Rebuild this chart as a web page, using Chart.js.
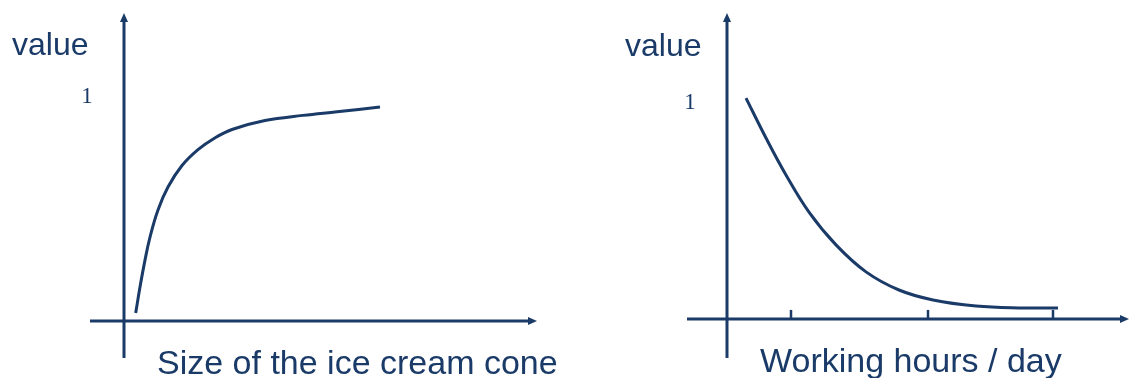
<!DOCTYPE html>
<html>
<head>
<meta charset="utf-8">
<script src="https://cdn.jsdelivr.net/npm/chart.js@4/dist/chart.umd.min.js"></script>
<style>
  html, body { margin: 0; padding: 0; background: #fff; }
  #wrap { position: relative; width: 1130px; height: 378px; overflow: hidden; }
  .panel { position: absolute; top: 0; width: 565px; height: 378px; }
</style>
</head>
<body>
<div id="wrap">
  <div class="panel" style="left:0"><canvas id="leftChart"></canvas></div>
  <div class="panel" style="left:565px"><canvas id="rightChart"></canvas></div>
</div>
<script>
// values (y: 1 = the "1" mark on the axis)
const coneSize = [0.117, 0.16, 0.21, 0.26, 0.34, 0.44, 0.58, 0.74, 0.9, 1.08, 1.41, 1.79, 2.13, 2.56];
const coneValue = [0.036, 0.152, 0.272, 0.375, 0.496, 0.598, 0.694, 0.765, 0.815, 0.855, 0.895, 0.918, 0.934, 0.955];

const workHours = [0.19, 0.39, 0.59, 0.82, 1.09, 1.39, 1.72, 2.06, 2.49, 2.92, 3.31];
const workValue = [1.023, 0.838, 0.667, 0.495, 0.343, 0.218, 0.134, 0.088, 0.06, 0.051, 0.051];

const leftTicks = [];
const rightTicks = [0.64, 2.01, 3.26];
const yTickLabels = ["1"];

const NAVY = "#1a3a68";

// draws the arrowed axes, tick marks and the texts
const sketchAxes = {
  id: "sketchAxes",
  afterDatasetsDraw(chart, args, opts) {
    const { ctx, chartArea } = chart;
    const xs = chart.scales.x;
    const ys = chart.scales.y;
    const x0 = xs.getPixelForValue(0);
    const y0 = ys.getPixelForValue(0);

    ctx.save();
    ctx.strokeStyle = NAVY;
    ctx.fillStyle = NAVY;
    ctx.lineWidth = 3;

    // y axis
    ctx.beginPath();
    ctx.moveTo(x0, chartArea.bottom);
    ctx.lineTo(x0, chartArea.top + 6);
    ctx.stroke();
    ctx.beginPath();
    ctx.moveTo(x0, chartArea.top);
    ctx.lineTo(x0 - 4, chartArea.top + 9);
    ctx.lineTo(x0 + 4, chartArea.top + 9);
    ctx.closePath();
    ctx.fill();

    // x axis
    ctx.beginPath();
    ctx.moveTo(chartArea.left, y0);
    ctx.lineTo(chartArea.right - 6, y0);
    ctx.stroke();
    ctx.beginPath();
    ctx.moveTo(chartArea.right, y0);
    ctx.lineTo(chartArea.right - 9, y0 - 4);
    ctx.lineTo(chartArea.right - 9, y0 + 4);
    ctx.closePath();
    ctx.fill();

    // little tick marks on the x axis
    ctx.lineWidth = 2.5;
    opts.ticks.forEach((t) => {
      const px = xs.getPixelForValue(t);
      ctx.beginPath();
      ctx.moveTo(px, y0);
      ctx.lineTo(px, y0 - 9);
      ctx.stroke();
    });

    // "1" label
    ctx.font = '23px "Liberation Serif", "Times New Roman", serif';
    ctx.textAlign = "center";
    ctx.textBaseline = "middle";
    yTickLabels.forEach((lbl) => {
      ctx.fillText(lbl, x0 - 37, ys.getPixelForValue(Number(lbl)));
    });

    // axis titles
    ctx.textAlign = "left";
    ctx.textBaseline = "alphabetic";
    ctx.font = '32px "Liberation Sans", Arial, sans-serif';
    ctx.fillText(opts.yTitle, opts.yTitlePos[0], opts.yTitlePos[1]);
    ctx.font = '34px "Liberation Sans", Arial, sans-serif';
    ctx.fillText(opts.xTitle, opts.xTitlePos[0], opts.xTitlePos[1]);
    ctx.restore();
  },
};

function makeChart(id, xs, ys, cfg) {
  return new Chart(document.getElementById(id).getContext("2d"), {
    type: "scatter",
    data: {
      datasets: [
        {
          data: xs.map((x, i) => ({ x: x, y: ys[i] })),
          showLine: true,
          borderColor: NAVY,
          borderWidth: 3,
          tension: 0.4,
          pointRadius: 0,
          fill: false,
        },
      ],
    },
    options: {
      responsive: true,
      maintainAspectRatio: false,
      animation: false,
      events: [],
      layout: { padding: cfg.padding },
      scales: {
        x: { type: "linear", display: false, min: cfg.xMin, max: cfg.xMax },
        y: { type: "linear", display: false, min: cfg.yMin, max: cfg.yMax },
      },
      plugins: {
        legend: { display: false },
        tooltip: { enabled: false },
        sketchAxes: {
          ticks: cfg.ticks,
          yTitle: "value",
          yTitlePos: cfg.yTitlePos,
          xTitle: cfg.xTitle,
          xTitlePos: cfg.xTitlePos,
        },
      },
    },
    plugins: [sketchAxes],
  });
}

makeChart("leftChart", coneSize, coneValue, {
  padding: { left: 90, right: 28, top: 13, bottom: 20 },
  xMin: -0.34, xMax: 4.13,
  yMin: -0.165, yMax: 1.375,
  ticks: leftTicks,
  xTitle: "Size of the ice cream cone",
  xTitlePos: [157, 374],
  yTitlePos: [12, 55],
});

makeChart("rightChart", workHours, workValue, {
  padding: { left: 122, right: 1, top: 13, bottom: 20 },
  xMin: -0.40, xMax: 4.02,
  yMin: -0.181, yMax: 1.417,
  ticks: rightTicks,
  xTitle: "Working hours / day",
  xTitlePos: [195, 372],
  yTitlePos: [60, 56],
});
</script>
</body>
</html>
